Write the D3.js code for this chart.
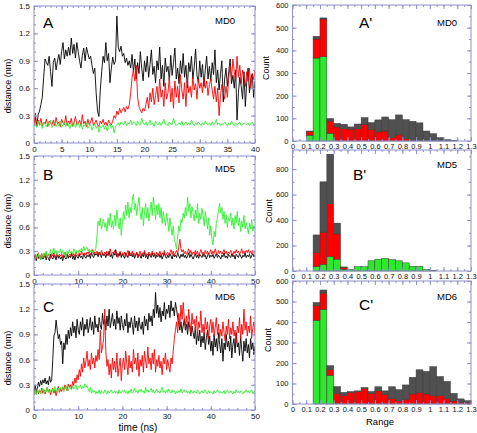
<!DOCTYPE html>
<html><head><meta charset="utf-8">
<script src="https://cdn.jsdelivr.net/npm/d3@7"></script>
<style>body{margin:0;background:#fff}svg{display:block}text{font-family:"Liberation Sans",Arial,sans-serif}</style>
</head><body><svg id="c" width="477" height="433"></svg>
<script>
// sampling step of the time series (ns)
const tStep = 0.25;

// Panel A (MD0), 0..40 ns
const A_black = [0.22,
0.28,0.18,0.31,0.35,0.42,0.5,0.72,0.92,
0.88,0.85,0.95,0.78,0.62,0.88,0.93,0.8,
0.9,0.97,0.86,1.0,1.1,0.92,1.02,0.95,
1.05,0.96,1.15,0.98,1.08,0.93,1.1,1.0,
0.9,0.82,0.96,1.04,0.9,1.05,0.98,0.92,
0.95,0.85,0.76,0.82,0.55,0.35,0.29,0.58,
0.78,0.95,0.88,1.1,0.9,0.98,0.66,0.82,
0.94,0.86,0.9,1.39,1.05,1.0,1.06,0.95,
0.98,0.88,0.93,0.85,0.9,0.82,0.97,0.78,
0.92,0.7,0.88,0.76,1.0,0.82,0.68,0.9,
0.78,0.95,0.72,0.86,1.02,0.75,0.84,0.66,
0.9,0.8,1.05,0.7,0.85,0.62,0.93,0.78,
0.84,0.68,0.96,0.74,0.88,1.04,0.7,0.82,
0.65,0.9,0.76,0.98,0.72,0.85,0.6,0.88,
0.78,0.95,0.7,0.83,1.03,0.74,0.66,0.9,
0.72,0.86,0.62,0.8,0.95,0.7,0.84,0.68,
0.88,0.75,1.02,0.66,0.8,0.58,0.76,0.9,
0.45,0.7,0.82,0.62,0.78,0.92,0.65,0.74,
0.6,0.8,0.25,0.55,0.72,0.62,0.48,0.78,
0.4,0.66,0.82,0.55,0.7,0.76,0.5,0.68];
const A_red = [0.2,
0.33,0.18,0.25,0.2,0.27,0.19,0.23,0.21,
0.26,0.18,0.24,0.22,0.2,0.25,0.19,0.28,
0.21,0.23,0.18,0.26,0.22,0.2,0.3,0.19,
0.24,0.21,0.27,0.18,0.23,0.29,0.2,0.22,
0.25,0.19,0.31,0.21,0.24,0.18,0.26,0.2,
0.23,0.28,0.19,0.22,0.25,0.2,0.18,0.24,
0.21,0.26,0.2,0.23,0.19,0.25,0.22,0.2,
0.24,0.3,0.27,0.35,0.31,0.38,0.33,0.36,
0.39,0.34,0.4,0.37,0.42,0.55,0.72,0.8,
0.68,0.85,0.5,0.4,0.36,0.33,0.38,0.35,
0.42,0.5,0.38,0.55,0.45,0.6,0.42,0.52,
0.62,0.45,0.7,0.5,0.58,0.4,0.66,0.48,
0.55,0.72,0.45,0.6,0.38,0.68,0.5,0.62,
0.44,0.75,0.58,0.48,0.66,0.4,0.7,0.55,
0.62,0.5,0.72,0.58,0.65,0.48,0.7,0.6,
0.66,0.55,0.72,0.6,0.68,0.52,0.64,0.7,
0.58,0.48,0.62,0.45,0.6,0.3,0.52,0.64,
0.56,0.48,0.62,0.5,0.72,0.85,0.7,0.92,
0.78,0.68,0.95,0.72,0.85,0.65,0.8,0.72,
0.62,0.78,0.68,0.82,0.6,0.75,0.7,0.8];
const A_green = [0.18,
0.22,0.17,0.24,0.19,0.21,0.16,0.23,0.2,
0.18,0.22,0.19,0.25,0.17,0.2,0.23,0.18,
0.21,0.19,0.24,0.17,0.2,0.22,0.18,0.23,
0.19,0.16,0.21,0.18,0.23,0.17,0.2,0.22,
0.17,0.21,0.15,0.2,0.18,0.22,0.16,0.19,
0.2,0.14,0.18,0.21,0.16,0.19,0.12,0.18,
0.17,0.2,0.15,0.19,0.13,0.18,0.21,0.16,
0.19,0.11,0.18,0.2,0.22,0.19,0.23,0.21,
0.2,0.24,0.19,0.22,0.21,0.25,0.2,0.23,
0.22,0.19,0.24,0.21,0.2,0.27,0.22,0.2,
0.23,0.19,0.21,0.25,0.2,0.22,0.18,0.24,
0.21,0.2,0.23,0.19,0.22,0.26,0.2,0.21,
0.19,0.23,0.21,0.2,0.27,0.22,0.19,0.21,
0.22,0.2,0.24,0.19,0.21,0.23,0.2,0.22,
0.2,0.25,0.21,0.19,0.22,0.2,0.23,0.21,
0.19,0.22,0.2,0.24,0.21,0.2,0.22,0.19,
0.23,0.2,0.21,0.26,0.2,0.22,0.19,0.21,
0.2,0.23,0.21,0.19,0.22,0.2,0.24,0.21,
0.19,0.22,0.2,0.21,0.23,0.19,0.2,0.22,
0.21,0.2,0.22,0.19,0.21,0.23,0.2,0.21];

// Panel B (MD5), 0..50 ns
const B_black = [0.2,
0.24,0.18,0.26,0.21,0.23,0.19,0.25,0.2,
0.22,0.27,0.19,0.24,0.21,0.18,0.26,0.22,
0.2,0.25,0.23,0.19,0.27,0.21,0.24,0.2,
0.23,0.18,0.25,0.22,0.2,0.26,0.21,0.24,
0.22,0.27,0.2,0.24,0.19,0.25,0.23,0.21,
0.26,0.22,0.24,0.2,0.27,0.23,0.21,0.25,
0.23,0.26,0.21,0.28,0.24,0.22,0.27,0.25,
0.27,0.23,0.29,0.25,0.22,0.28,0.24,0.26,
0.22,0.27,0.25,0.3,0.23,0.26,0.21,0.28,
0.25,0.32,0.23,0.27,0.24,0.29,0.22,0.26,
0.24,0.21,0.28,0.25,0.22,0.3,0.24,0.26,
0.23,0.27,0.21,0.25,0.28,0.22,0.26,0.24,
0.21,0.26,0.23,0.29,0.22,0.25,0.2,0.27,
0.24,0.22,0.28,0.23,0.26,0.21,0.25,0.23,
0.27,0.22,0.25,0.2,0.24,0.28,0.23,0.21,
0.25,0.22,0.27,0.24,0.2,0.26,0.23,0.25,
0.22,0.28,0.24,0.21,0.26,0.23,0.27,0.22,
0.25,0.21,0.24,0.28,0.22,0.26,0.23,0.2,
0.24,0.27,0.22,0.25,0.21,0.26,0.24,0.22,
0.27,0.23,0.25,0.2,0.24,0.28,0.22,0.25,
0.23,0.26,0.21,0.24,0.27,0.22,0.25,0.23,
0.2,0.25,0.23,0.28,0.22,0.24,0.21,0.26,
0.24,0.22,0.27,0.23,0.25,0.2,0.26,0.24,
0.22,0.27,0.24,0.21,0.25,0.23,0.28,0.22,
0.25,0.23,0.26,0.21,0.24,0.27,0.23,0.25];
const B_red = [0.22,
0.26,0.2,0.25,0.28,0.22,0.24,0.27,0.21,
0.25,0.23,0.28,0.22,0.26,0.24,0.21,0.27,
0.24,0.28,0.22,0.25,0.27,0.23,0.26,0.24,
0.27,0.22,0.26,0.29,0.24,0.27,0.23,0.26,
0.25,0.28,0.24,0.27,0.23,0.29,0.26,0.24,
0.28,0.25,0.3,0.26,0.24,0.28,0.25,0.29,
0.27,0.3,0.25,0.28,0.32,0.26,0.29,0.27,
0.3,0.26,0.29,0.25,0.31,0.27,0.24,0.29,
0.26,0.3,0.24,0.28,0.33,0.25,0.29,0.27,
0.31,0.25,0.28,0.22,0.27,0.3,0.24,0.28,
0.25,0.29,0.23,0.27,0.31,0.24,0.28,0.26,
0.3,0.23,0.27,0.25,0.29,0.22,0.26,0.3,
0.24,0.28,0.26,0.31,0.23,0.27,0.25,0.29,
0.27,0.24,0.3,0.26,0.28,0.23,0.29,0.25,
0.26,0.3,0.24,0.28,0.25,0.31,0.23,0.27,
0.29,0.25,0.28,0.32,0.26,0.3,0.24,0.28,
0.31,0.27,0.35,0.45,0.33,0.29,0.32,0.27,
0.3,0.26,0.29,0.33,0.27,0.31,0.25,0.29,
0.27,0.31,0.26,0.3,0.24,0.28,0.32,0.27,
0.29,0.25,0.31,0.27,0.3,0.26,0.28,0.32,
0.26,0.3,0.27,0.33,0.28,0.25,0.31,0.27,
0.3,0.26,0.29,0.32,0.27,0.3,0.25,0.29,
0.27,0.31,0.28,0.25,0.3,0.27,0.32,0.28,
0.3,0.26,0.29,0.33,0.27,0.3,0.28,0.31,
0.28,0.32,0.27,0.3,0.26,0.31,0.29,0.27];
const B_green = [0.22,
0.2,0.25,0.21,0.27,0.23,0.19,0.26,0.22,
0.28,0.24,0.3,0.22,0.27,0.25,0.32,0.26,
0.29,0.34,0.27,0.31,0.25,0.3,0.28,0.33,
0.27,0.31,0.25,0.29,0.22,0.3,0.27,0.32,
0.28,0.3,0.26,0.33,0.29,0.27,0.31,0.28,
0.32,0.29,0.34,0.3,0.36,0.31,0.33,0.35,
0.3,0.33,0.29,0.32,0.28,0.31,0.3,0.34,
0.5,0.68,0.62,0.72,0.58,0.65,0.7,0.6,
0.66,0.55,0.72,0.62,0.78,0.6,0.68,0.58,
0.75,0.62,0.82,0.68,0.58,0.72,0.5,0.66,
0.8,0.7,0.88,0.75,0.92,0.72,0.85,0.78,
0.95,1.02,0.82,0.9,0.75,0.88,0.98,0.8,
0.7,0.85,0.62,0.78,0.9,0.72,0.85,0.68,
0.8,0.92,0.75,0.98,0.85,0.7,0.88,0.76,
0.9,0.72,0.85,0.65,0.8,0.7,0.62,0.78,
0.68,0.55,0.72,0.6,0.5,0.62,0.45,0.4,
0.33,0.48,0.62,0.55,0.7,0.66,0.78,0.72,
0.85,0.75,0.98,0.8,0.9,0.72,0.86,0.78,
0.68,0.82,0.72,0.9,0.65,0.78,0.7,0.84,
0.75,0.62,0.8,0.7,0.58,0.72,0.5,0.62,
0.45,0.38,0.55,0.48,0.65,0.72,0.82,0.9,
0.78,0.85,0.7,0.8,0.65,0.76,0.6,0.72,
0.68,0.78,0.62,0.72,0.58,0.75,0.66,0.8,
0.62,0.72,0.55,0.68,0.6,0.75,0.58,0.66,
0.6,0.52,0.65,0.58,0.7,0.55,0.62,0.58];

// Panel C (MD6), 0..50 ns
const C_black = [0.2,
0.3,0.22,0.26,0.33,0.28,0.35,0.3,0.36,
0.32,0.38,0.31,0.35,0.3,0.4,0.33,0.36,
0.6,0.88,0.92,1.07,0.95,0.85,0.9,0.78,
0.82,0.55,0.8,0.72,0.9,0.78,0.95,0.85,
0.98,0.88,1.05,0.92,1.0,0.86,1.08,0.95,
0.9,1.05,0.95,1.1,0.88,1.02,0.96,1.08,
0.92,1.0,1.1,0.95,1.05,0.9,1.12,0.98,
1.02,0.93,1.1,1.0,0.96,1.15,1.02,1.08,
0.95,1.12,1.0,1.2,0.98,1.06,1.15,1.0,
1.08,0.96,1.18,1.03,1.1,0.95,1.12,1.02,
0.95,1.08,1.0,1.15,0.92,1.05,0.98,1.1,
1.02,0.9,1.12,0.98,1.06,0.94,1.1,1.0,
0.96,1.05,0.9,1.12,1.0,1.08,0.95,1.15,
1.05,1.12,1.0,1.2,1.1,1.4,1.15,1.25,
1.1,1.22,1.05,1.18,1.12,1.28,1.08,1.2,
1.15,1.25,1.1,1.3,1.18,1.22,1.12,1.28,
1.2,1.1,1.02,0.95,1.05,0.92,1.0,1.08,
0.95,1.02,0.9,1.05,0.98,0.88,1.0,0.92,
0.85,0.98,0.78,0.92,0.82,0.95,0.75,0.88,
0.8,0.92,0.72,0.86,0.95,0.78,0.88,0.7,
0.82,0.65,0.9,0.75,0.85,0.7,0.92,0.78,
0.68,0.85,0.58,0.8,0.72,0.9,0.75,0.82,
0.7,0.88,0.62,0.78,0.85,0.68,0.92,0.75,
0.8,0.65,0.88,0.72,0.58,0.82,0.7,0.85,
0.68,0.78,0.62,0.85,0.72,0.8,0.66,0.76];
const C_red = [0.18,
0.22,0.2,0.25,0.19,0.23,0.21,0.26,0.2,
0.24,0.19,0.22,0.27,0.21,0.25,0.18,0.23,
0.26,0.2,0.24,0.17,0.23,0.28,0.21,0.25,
0.22,0.27,0.24,0.3,0.26,0.23,0.31,0.27,
0.3,0.25,0.34,0.29,0.38,0.32,0.42,0.36,
0.48,0.4,0.55,0.45,0.62,0.5,0.58,0.7,
0.52,0.6,0.48,0.68,0.55,0.62,0.5,0.65,
0.58,0.72,0.6,0.95,0.68,0.75,0.85,1.2,
0.7,0.52,0.6,0.42,0.55,0.38,0.62,0.48,
0.58,0.45,0.68,0.4,0.52,0.62,0.35,0.55,
0.62,0.48,0.7,0.55,0.42,0.65,0.5,0.58,
0.45,0.72,0.55,0.62,0.48,0.68,0.4,0.6,
0.52,0.65,0.45,0.7,0.58,0.5,0.75,0.55,
0.62,0.48,0.68,0.55,0.72,0.45,0.6,0.52,
0.65,0.5,0.58,0.42,0.62,0.55,0.68,0.48,
0.6,0.52,0.45,0.62,0.55,0.7,0.85,0.95,
1.05,0.92,1.15,1.0,1.25,1.08,1.28,1.1,
1.0,1.12,0.95,1.2,1.05,0.92,1.15,1.02,
1.08,0.95,1.12,0.88,1.05,0.98,1.18,0.92,
1.02,0.9,1.1,0.96,1.05,0.85,1.0,1.08,
0.92,1.05,0.88,0.98,1.1,0.9,1.02,0.85,
0.96,0.88,1.05,0.92,0.82,1.0,0.9,1.08,
0.85,0.98,0.9,1.05,0.88,0.95,0.8,1.0,
0.92,1.1,0.85,1.02,0.9,1.2,0.95,1.05,
0.88,1.0,0.92,1.12,0.85,0.98,1.05,0.9];
const C_green = [0.2,
0.23,0.18,0.25,0.21,0.24,0.19,0.22,0.26,
0.2,0.24,0.22,0.27,0.21,0.25,0.23,0.2,
0.25,0.22,0.28,0.24,0.21,0.26,0.23,0.27,
0.24,0.28,0.22,0.26,0.29,0.25,0.23,0.27,
0.26,0.24,0.29,0.25,0.27,0.3,0.24,0.28,
0.27,0.3,0.25,0.28,0.26,0.31,0.27,0.29,
0.25,0.22,0.27,0.2,0.24,0.21,0.23,0.19,
0.22,0.2,0.24,0.19,0.23,0.21,0.2,0.24,
0.21,0.19,0.23,0.2,0.22,0.24,0.2,0.21,
0.23,0.2,0.22,0.19,0.24,0.21,0.2,0.23,
0.21,0.24,0.2,0.22,0.19,0.23,0.21,0.25,
0.2,0.22,0.26,0.21,0.23,0.2,0.24,0.22,
0.25,0.21,0.23,0.2,0.27,0.22,0.24,0.21,
0.23,0.26,0.21,0.24,0.2,0.22,0.25,0.21,
0.22,0.2,0.24,0.27,0.21,0.23,0.2,0.24,
0.21,0.25,0.22,0.2,0.24,0.21,0.23,0.19,
0.22,0.2,0.23,0.21,0.25,0.2,0.22,0.24,
0.21,0.23,0.2,0.22,0.19,0.24,0.21,0.2,
0.23,0.21,0.2,0.24,0.22,0.19,0.21,0.23,
0.2,0.22,0.24,0.21,0.19,0.23,0.2,0.22,
0.21,0.19,0.23,0.2,0.22,0.24,0.21,0.2,
0.22,0.2,0.21,0.23,0.19,0.22,0.24,0.21,
0.2,0.23,0.21,0.19,0.22,0.2,0.24,0.21,
0.22,0.2,0.23,0.21,0.19,0.22,0.21,0.24,
0.21,0.23,0.2,0.22,0.24,0.2,0.22,0.21];

// Histogram bins (left edges, width 0.05 nm)
const binWidth = 0.05;
const bins = [0.10,0.15,0.20,0.25,0.30,0.35,0.40,0.45,0.50,0.55,0.60,0.65,0.70,0.75,0.80,0.85,0.90,0.95,1.00,1.05,1.10,1.15,1.20,1.25];
const Ah_green = [25,366,372,34,0,0,0,0,0,0,0,0,0,0,0,0,0,0,0,0,0,0,0,0];
const Ah_red   = [16,84,166,54,62,55,52,55,74,52,40,44,15,27,10,3,0,0,0,0,0,0,0,0];
const Ah_black = [3,12,5,11,16,19,10,20,29,29,53,62,79,88,84,84,80,44,32,15,6,2,0,0];
const Bh_green = [0,34,53,114,93,13,13,34,34,80,93,100,90,80,64,37,37,11,5,0,0,0,0,0];
const Bh_red   = [0,112,252,416,198,13,0,0,0,0,0,0,0,0,0,0,0,0,0,0,0,0,0,0];
const Bh_black = [0,137,395,387,85,6,0,0,0,0,0,0,0,0,0,0,0,0,0,0,0,0,0,0];
const Ch_green = [0,408,462,139,3,0,0,0,0,0,0,0,0,0,0,0,0,0,0,0,0,0,0,0];
const Ch_red   = [0,71,79,28,49,41,57,61,77,52,64,48,28,16,23,49,57,49,41,41,28,15,8,7];
const Ch_black = [0,16,15,20,33,16,4,3,3,9,20,16,56,54,70,81,110,110,141,93,82,37,17,9];

// tick values
const distTicks = [0,0.3,0.6,0.9,1.2,1.5];
const timeTicksA = [0,5,10,15,20,25,30,35,40];
const timeTicksBC = [0,10,20,30,40,50];
const rangeTicks = [0,0.1,0.2,0.3,0.4,0.5,0.6,0.7,0.8,0.9,1,1.1,1.2,1.3];
const countTicksA = [0,100,200,300,400,500,600];
const countTicksB = [0,200,400,600,800];
const countTicksC = [0,100,200,300,400,500,600];

const svg = d3.select("#c");
const frameColor = "#9090cc";
const lineColors = {black:"#000000", red:"#ff0000", green:"#2df02d"};
const barColors = {green:"#2ee82e", red:"#ff0000", black:"#505050"};
const fmt = d => String(+(+d).toFixed(2));

function frame(g, x, y, xMajor, xMinorStep, yMajor, yMinorStep, labelSize) {
  const [xa, xb] = x.range(), [ya, yb] = y.range(); // ya bottom, yb top
  const xd = x.domain(), yd = y.domain();
  const xMinor = d3.range(xd[0], xd[1] + 1e-9, xMinorStep);
  const yMinor = d3.range(yd[0], yd[1] + 1e-9, yMinorStep);
  const style = sel => {
    sel.select(".domain").remove();
    sel.selectAll("line").attr("stroke", frameColor);
    sel.selectAll("text").attr("font-size", labelSize).attr("fill", "#111").attr("font-family", '"Liberation Sans",Arial,sans-serif');
  };
  g.append("g").attr("transform", `translate(0,${ya})`)
    .call(d3.axisBottom(x).tickValues(xMinor).tickSize(-2).tickFormat("")).call(style);
  g.append("g").attr("transform", `translate(0,${ya})`)
    .call(d3.axisBottom(x).tickValues(xMajor).tickSize(-4).tickPadding(3).tickFormat(fmt)).call(style);
  g.append("g").attr("transform", `translate(0,${yb})`)
    .call(d3.axisTop(x).tickValues(xMinor).tickSize(-2).tickFormat("")).call(style);
  g.append("g").attr("transform", `translate(0,${yb})`)
    .call(d3.axisTop(x).tickValues(xMajor).tickSize(-4).tickFormat("")).call(style);
  g.append("g").attr("transform", `translate(${xa},0)`)
    .call(d3.axisLeft(y).tickValues(yMinor).tickSize(-2).tickFormat("")).call(style);
  g.append("g").attr("transform", `translate(${xa},0)`)
    .call(d3.axisLeft(y).tickValues(yMajor).tickSize(-4).tickPadding(4).tickFormat(fmt)).call(style);
  g.append("g").attr("transform", `translate(${xb},0)`)
    .call(d3.axisRight(y).tickValues(yMinor).tickSize(-2).tickFormat("")).call(style);
  g.append("g").attr("transform", `translate(${xb},0)`)
    .call(d3.axisRight(y).tickValues(yMajor).tickSize(-4).tickFormat("")).call(style);
  g.append("rect").attr("x", xa).attr("y", yb).attr("width", xb - xa).attr("height", ya - yb)
    .attr("fill", "none").attr("stroke", frameColor).attr("stroke-width", 1);
}

function linePanel(p) {
  const g = svg.append("g");
  const x = d3.scaleLinear().domain([0, p.tMax]).range([34, 255]);
  const y = d3.scaleLinear().domain([0, 1.5]).range([p.y1, p.y0]);
  const id = "clip" + p.letter;
  svg.append("clipPath").attr("id", id).append("rect")
    .attr("x", 34).attr("y", p.y0).attr("width", 221).attr("height", p.y1 - p.y0);
  const line = d3.line().x((d, i) => x(i * tStep)).y(d => y(d));
  const lg = g.append("g").attr("clip-path", `url(#${id})`);
  p.series.forEach(s => {
    lg.append("path").datum(s.values).attr("d", line).attr("fill", "none")
      .attr("stroke", lineColors[s.key]).attr("stroke-width", 0.9).attr("stroke-linejoin", "round");
  });
  frame(g, x, y, p.xTicks, p.xMinor, distTicks, 0.1, 8);
  g.append("text").attr("x", 43).attr("y", p.letterY).attr("font-size", 15.5).text(p.letter);
  g.append("text").attr("x", 215).attr("y", p.mdY).attr("font-size", 9.5).text(p.md);
  g.append("text").attr("transform", `translate(11,${p.labelY}) rotate(-90)`)
    .attr("text-anchor", "middle").attr("font-size", 9).text("distance (nm)");
}

function histPanel(p) {
  const g = svg.append("g");
  const x = d3.scaleLinear().domain([0, 1.3]).range([292.5, 471]);
  const y = d3.scaleLinear().domain([0, p.yMax]).range([p.y1, p.y0]);
  const rows = bins.map((b, i) => ({bin: b, green: p.green[i], red: p.red[i], black: p.black[i]}));
  const layers = d3.stack().keys(["green", "red", "black"])(rows);
  layers.forEach(layer => {
    g.append("g").selectAll("rect")
      .data(layer.filter(d => d[1] - d[0] > 0))
      .join("rect")
      .attr("x", d => x(d.data.bin))
      .attr("width", d => x(d.data.bin + binWidth) - x(d.data.bin))
      .attr("y", d => y(d[1]))
      .attr("height", d => y(d[0]) - y(d[1]))
      .attr("fill", barColors[layer.key])
      .attr("stroke", "#3a3a3a").attr("stroke-width", 0.5);
  });
  frame(g, x, y, rangeTicks, 0.05, p.yTicks, p.yMinor, 7.5);
  g.append("text").attr("x", p.letterX).attr("y", p.letterY).attr("font-size", 15.5).text(p.letter);
  g.append("text").attr("x", 437).attr("y", p.mdY).attr("font-size", 9.5).text(p.md);
  g.append("text").attr("transform", `translate(${p.countX},${p.labelY}) rotate(-90)`)
    .attr("text-anchor", "middle").attr("font-size", 9).text("Count");
}

linePanel({letter: "A", md: "MD0", tMax: 40, xTicks: timeTicksA, xMinor: 1, y0: 6, y1: 143, letterY: 28, mdY: 24, labelY: 86,
  series: [{key: "black", values: A_black}, {key: "red", values: A_red}, {key: "green", values: A_green}]});
linePanel({letter: "B", md: "MD5", tMax: 50, xTicks: timeTicksBC, xMinor: 2, y0: 156, y1: 275, letterY: 180, mdY: 172, labelY: 221,
  series: [{key: "black", values: B_black}, {key: "red", values: B_red}, {key: "green", values: B_green}]});
linePanel({letter: "C", md: "MD6", tMax: 50, xTicks: timeTicksBC, xMinor: 2, y0: 284, y1: 410, letterY: 312, mdY: 300, labelY: 358,
  series: [{key: "black", values: C_black}, {key: "red", values: C_red}, {key: "green", values: C_green}]});

histPanel({letter: "A'", md: "MD0", yMax: 600, yTicks: countTicksA, yMinor: 50, y0: 5, y1: 141, letterX: 359, letterY: 28, mdY: 26, countX: 269, labelY: 68,
  green: Ah_green, red: Ah_red, black: Ah_black});
histPanel({letter: "B'", md: "MD5", yMax: 950, yTicks: countTicksB, yMinor: 100, y0: 150, y1: 271, letterX: 353, letterY: 180, mdY: 168, countX: 272, labelY: 211,
  green: Bh_green, red: Bh_red, black: Bh_black});
histPanel({letter: "C'", md: "MD6", yMax: 600, yTicks: countTicksC, yMinor: 50, y0: 281, y1: 404, letterX: 359, letterY: 310, mdY: 300, countX: 271, labelY: 340,
  green: Ch_green, red: Ch_red, black: Ch_black});

svg.append("text").attr("x", 138).attr("y", 431).attr("text-anchor", "middle").attr("font-size", 10).text("time (ns)");
svg.append("text").attr("x", 380).attr("y", 425).attr("text-anchor", "middle").attr("font-size", 9.5).text("Range");
</script></body></html>
